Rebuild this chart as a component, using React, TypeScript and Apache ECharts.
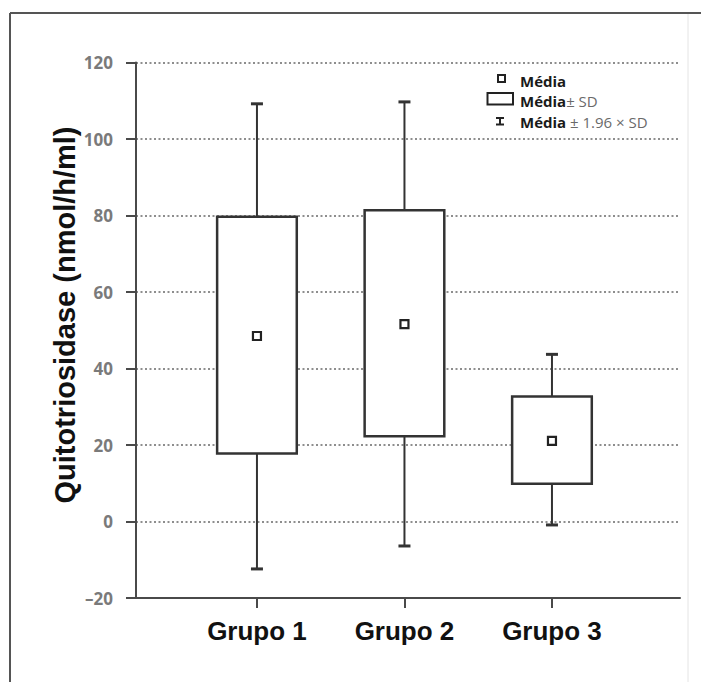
import React, { useEffect, useRef } from "react";
import * as echarts from "echarts";

const categories = ["Grupo 1", "Grupo 2", "Grupo 3"];
const means = [48.5, 51.6, 21.1];
const sdLow = [17.8, 22.3, 9.9];
const sdHigh = [79.7, 81.4, 32.7];
const ciLow = [-12.4, -6.4, -0.9];
const ciHigh = [109.2, 109.7, 43.7];
const yTickValues = [-20, 0, 20, 40, 60, 80, 100, 120];
const yTitle = "Quitotriosidase (nmol/h/ml)";

const AXIS = "#4a4a4a";
const STROKE = "#333333";

export default function App() {
  const ref = useRef<HTMLDivElement>(null);
  useEffect(() => {
    document.body.style.margin = "0";
    const chart = echarts.init(ref.current!, null, { renderer: "svg" });
    const data = categories.map((c, i) => [i + 1, ciLow[i], sdLow[i], means[i], sdHigh[i], ciHigh[i]]);
    const legendRich = {
      b: { fontFamily: "Open Sans", fontWeight: "bold", fontSize: 15, fill: "#1a1a1a", lineHeight: 16 },
      g: { fontFamily: "Open Sans", fontWeight: "normal", fontSize: 15, fill: "#6a6a6a", lineHeight: 16 },
    };
    const option: any = {
      animation: false,
      backgroundColor: "#ffffff",
      grid: { left: 136, right: 21, top: 62.5, bottom: 84 },
      xAxis: {
        type: "value",
        min: 0.18,
        max: 3.868,
        splitLine: { show: false },
        axisLine: { show: true, onZero: false, lineStyle: { color: AXIS, width: 2 } },
        axisTick: { show: true, customValues: [1, 2, 3], length: 10, lineStyle: { color: AXIS, width: 2 } },
        axisLabel: {
          customValues: [1, 2, 3],
          formatter: (v: number) => categories[Math.round(v) - 1] ?? "",
          margin: 20,
          fontFamily: "Liberation Sans",
          fontWeight: "bold",
          fontSize: 26,
          color: "#111",
        },
      },
      yAxis: {
        type: "value",
        min: yTickValues[0],
        max: yTickValues[yTickValues.length - 1],
        interval: 20,
        axisLine: { show: true, onZero: false, lineStyle: { color: AXIS, width: 2 } },
        axisTick: { show: true, length: 10, lineStyle: { color: AXIS, width: 2 } },
        axisLabel: {
          margin: 23,
          fontFamily: "Open Sans",
          fontWeight: "bold",
          fontSize: 17,
          color: "#7a7a7a",
          formatter: (v: number) => (v < 0 ? "\u2013" + Math.abs(v) : String(v)),
        },
        splitLine: { show: true, lineStyle: { color: "#6a6a6a", width: 1.5, type: [2, 2.5] } },
      },
      series: [
        {
          type: "custom",
          data,
          encode: { x: 0, y: [1, 2, 3, 4, 5] },
          renderItem: (params: any, api: any) => {
            const x = api.value(0);
            const pLow = api.coord([x, api.value(1)]);
            const pQ1 = api.coord([x, api.value(2)]);
            const pMean = api.coord([x, api.value(3)]);
            const pQ3 = api.coord([x, api.value(4)]);
            const pHigh = api.coord([x, api.value(5)]);
            const w = api.size([0.54, 0])[0];
            const cap = 12;
            const ms = 8;
            const lineStyle = { stroke: STROKE, lineWidth: 2 };
            return {
              type: "group",
              children: [
                { type: "line", shape: { x1: pHigh[0], y1: pHigh[1], x2: pQ3[0], y2: pQ3[1] }, style: lineStyle },
                { type: "line", shape: { x1: pQ1[0], y1: pQ1[1], x2: pLow[0], y2: pLow[1] }, style: lineStyle },
                { type: "line", shape: { x1: pHigh[0] - cap / 2, y1: pHigh[1], x2: pHigh[0] + cap / 2, y2: pHigh[1] }, style: { stroke: STROKE, lineWidth: 3 } },
                { type: "line", shape: { x1: pLow[0] - cap / 2, y1: pLow[1], x2: pLow[0] + cap / 2, y2: pLow[1] }, style: { stroke: STROKE, lineWidth: 3 } },
                {
                  type: "rect",
                  shape: { x: pQ3[0] - w / 2, y: pQ3[1], width: w, height: pQ1[1] - pQ3[1] },
                  style: { fill: "#ffffff", stroke: STROKE, lineWidth: 2.5 },
                },
                {
                  type: "rect",
                  shape: { x: pMean[0] - ms / 2, y: pMean[1] - ms / 2, width: ms, height: ms },
                  style: { fill: "#ffffff", stroke: "#222", lineWidth: 2.2 },
                },
              ],
            };
          },
          z: 5,
        },
      ],
      graphic: [
        // outer frame
        { type: "line", shape: { x1: 10, y1: 13, x2: 701, y2: 13 }, style: { stroke: "#555", lineWidth: 2 } },
        { type: "line", shape: { x1: 10, y1: 13, x2: 10, y2: 682 }, style: { stroke: "#555", lineWidth: 2 } },
        { type: "line", shape: { x1: 688, y1: 14, x2: 688, y2: 682 }, style: { stroke: "#e4e4e4", lineWidth: 1 } },
        // y title
        {
          type: "text",
          x: 65,
          y: 315,
          rotation: Math.PI / 2,
          style: {
            text: yTitle,
            fontFamily: "Liberation Sans",
            fontWeight: "bold",
            fontSize: 29,
            fill: "#111",
            align: "center",
            verticalAlign: "middle",
          },
        },
        // legend
        { type: "rect", shape: { x: 498, y: 75, width: 7, height: 7 }, style: { fill: "#fff", stroke: "#222", lineWidth: 2 } },
        { type: "rect", shape: { x: 487.5, y: 93, width: 25.5, height: 11.5 }, style: { fill: "#fff", stroke: "#222", lineWidth: 2 } },
        { type: "line", shape: { x1: 500, y1: 118, x2: 500, y2: 124.5 }, style: { stroke: "#222", lineWidth: 2 } },
        { type: "line", shape: { x1: 496, y1: 118, x2: 504, y2: 118 }, style: { stroke: "#222", lineWidth: 2 } },
        { type: "line", shape: { x1: 496, y1: 124.5, x2: 504, y2: 124.5 }, style: { stroke: "#222", lineWidth: 2 } },
        { type: "text", x: 520, y: 80.5, style: { text: "{b|Média}", verticalAlign: "middle", rich: legendRich } },
        { type: "text", x: 520, y: 100.5, style: { text: "{b|Média}{g|± SD}", verticalAlign: "middle", rich: legendRich } },
        { type: "text", x: 520, y: 121.5, style: { text: "{b|Média}{g| ± 1.96 × SD}", verticalAlign: "middle", rich: legendRich } },
      ],
    };
    chart.setOption(option);
    return () => chart.dispose();
  }, []);
  return <div ref={ref} style={{ width: 701, height: 682 }} />;
}
